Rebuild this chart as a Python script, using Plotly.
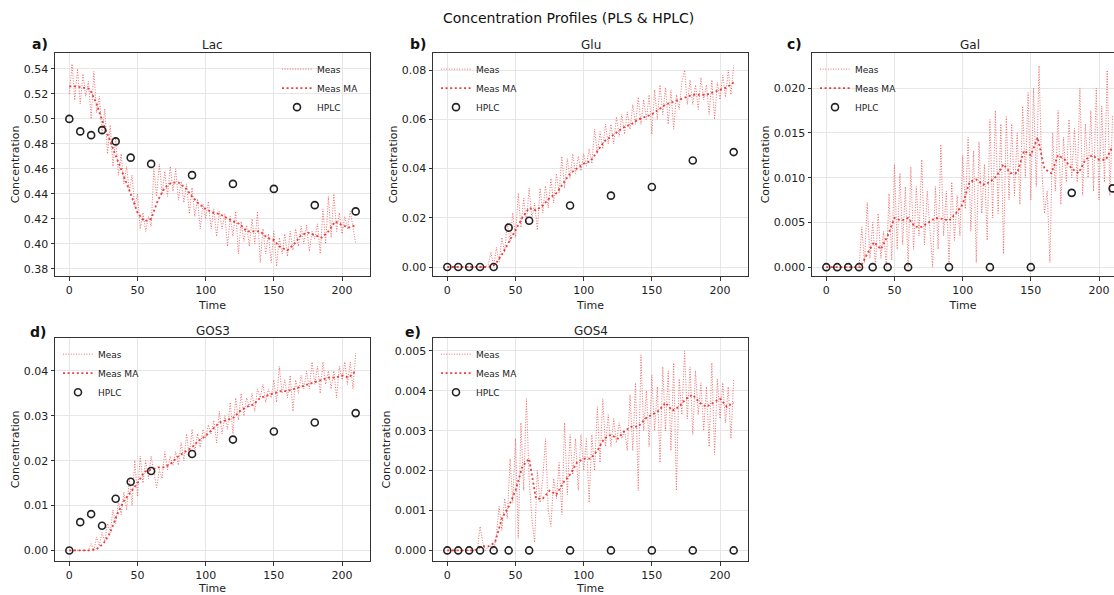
import plotly.graph_objects as go

# ---------------- data ----------------
t_meas = list(range(0, 211, 2))
t_ma = list(range(0, 211, 5))
t_hplc = [0, 8, 16, 24, 34, 45, 60, 90, 120, 150, 180, 210]

lac_meas = [0.520, 0.544, 0.515, 0.540, 0.512, 0.536, 0.518, 0.530, 0.500, 0.538,
            0.505, 0.518, 0.488, 0.508, 0.472, 0.495, 0.462, 0.485, 0.455, 0.472,
            0.448, 0.462, 0.442, 0.455, 0.430, 0.440, 0.412, 0.425, 0.410, 0.422,
            0.414, 0.460, 0.438, 0.464, 0.440, 0.458, 0.438, 0.462, 0.442, 0.460,
            0.435, 0.450, 0.433, 0.448, 0.424, 0.445, 0.422, 0.436, 0.412, 0.432,
            0.420, 0.434, 0.412, 0.428, 0.406, 0.426, 0.412, 0.424, 0.398, 0.422,
            0.406, 0.426, 0.392, 0.418, 0.402, 0.415, 0.398, 0.420, 0.400, 0.426,
            0.385, 0.412, 0.392, 0.408, 0.385, 0.410, 0.382, 0.405, 0.392, 0.408,
            0.390, 0.410, 0.395, 0.412, 0.398, 0.414, 0.400, 0.415, 0.394, 0.410,
            0.404, 0.416, 0.392, 0.428, 0.400, 0.438, 0.405, 0.440, 0.410, 0.425,
            0.408, 0.422, 0.412, 0.426, 0.414, 0.400]
lac_ma = [0.526, 0.526, 0.525, 0.524, 0.512, 0.496, 0.482, 0.468, 0.455, 0.440,
          0.425, 0.418, 0.420, 0.435, 0.445, 0.449, 0.449, 0.445, 0.438, 0.432,
          0.428, 0.425, 0.424, 0.421, 0.418, 0.416, 0.410, 0.410, 0.410, 0.405,
          0.403, 0.397, 0.395, 0.400, 0.407, 0.409, 0.407, 0.405, 0.410, 0.418,
          0.415, 0.413, 0.415]
lac_hplc = [0.500, 0.490, 0.487, 0.491, 0.482, 0.469, 0.464, 0.455, 0.448, 0.444, 0.431, 0.426]

glu_meas = [0, 0, 0, 0, 0, 0, 0, 0, 0, 0,
            0, 0, 0, 0, 0, 0.001, 0.006, 0.000, 0.008, 0.002,
            0.012, 0.006, 0.018, 0.010, 0.022, 0.012, 0.030, 0.016, 0.028, 0.018,
            0.032, 0.020, 0.026, 0.015, 0.032, 0.022, 0.033, 0.024, 0.036, 0.026,
            0.038, 0.030, 0.045, 0.032, 0.044, 0.036, 0.046, 0.038, 0.045, 0.039,
            0.046, 0.041, 0.048, 0.042, 0.056, 0.046, 0.055, 0.048, 0.058, 0.050,
            0.058, 0.050, 0.061, 0.053, 0.062, 0.054, 0.063, 0.056, 0.066, 0.058,
            0.069, 0.058, 0.068, 0.060, 0.070, 0.054, 0.072, 0.060, 0.074, 0.062,
            0.073, 0.058, 0.072, 0.056, 0.070, 0.064, 0.075, 0.080, 0.066, 0.076,
            0.066, 0.074, 0.064, 0.077, 0.068, 0.074, 0.062, 0.076, 0.060, 0.075,
            0.068, 0.078, 0.069, 0.080, 0.070, 0.082]
glu_ma = [0, 0, 0, 0, 0, 0, 0, 0.001, 0.005, 0.010,
          0.015, 0.020, 0.024, 0.023, 0.025, 0.028, 0.030, 0.034, 0.038, 0.040,
          0.042, 0.043, 0.047, 0.051, 0.053, 0.055, 0.057, 0.058, 0.060, 0.061,
          0.062, 0.064, 0.066, 0.067, 0.068, 0.069, 0.070, 0.070, 0.070, 0.071,
          0.072, 0.073, 0.075]
glu_hplc = [0, 0, 0, 0, 0, 0.0160, 0.0188, 0.0250, 0.0290, 0.0325, 0.0433, 0.0467]

gal_meas = [0, 0, 0, 0, 0, 0, 0, 0, 0, 0,
            0, 0, 0, 0.0045, 0.0005, 0.0072, 0.0010, 0.0050, 0.0002, 0.0060,
            0.0010, 0.0040, 0.0000, 0.0082, 0.0008, 0.0115, 0.0020, 0.0105, 0.0025, 0.0090,
            0.0000, 0.0112, 0.0020, 0.0090, 0.0035, 0.0120, 0.0025, 0.0085, 0.0045, 0.0000,
            0.0090, 0.0020, 0.0137, 0.0035, 0.0085, 0.0005, 0.0095, 0.0030, 0.0080, 0.0035,
            0.0125, 0.0065, 0.0145, 0.0040, 0.0130, 0.0005, 0.0140, 0.0060, 0.0115, 0.0030,
            0.0165, 0.0055, 0.0175, 0.0060, 0.0160, 0.0015, 0.0168, 0.0075, 0.0160, 0.0080,
            0.0150, 0.0070, 0.0180, 0.0100, 0.0195, 0.0075, 0.0200, 0.0090, 0.0225, 0.0110,
            0.0060, 0.0085, 0.0005, 0.0150, 0.0085, 0.0175, 0.0070, 0.0145, 0.0095, 0.0165,
            0.0100, 0.0155, 0.0095, 0.0200, 0.0080, 0.0160, 0.0100, 0.0175, 0.0085, 0.0200,
            0.0075, 0.0180, 0.0095, 0.0220, 0.0080, 0.0170]
gal_ma = [0, 0, 0, 0, 0, 0, 0.0015, 0.0028, 0.0020, 0.0035,
          0.0055, 0.0052, 0.0055, 0.0045, 0.0045, 0.0050, 0.0055, 0.0054, 0.0052, 0.0060,
          0.0070, 0.0095, 0.0098, 0.0092, 0.0095, 0.0102, 0.0115, 0.0105, 0.0105, 0.0130,
          0.0125, 0.0145, 0.0110, 0.0105, 0.0125, 0.0120, 0.0110, 0.0105, 0.0120, 0.0125,
          0.0120, 0.0120, 0.0135]
gal_hplc = [0, 0, 0, 0, 0, 0, 0, 0, 0, 0, 0.0083, 0.0088]

gos3_meas = [0, 0, 0, 0, 0, 0, 0, 0, 0.0015, 0.0000,
             0.003, 0.001, 0.004, 0.002, 0.006, 0.004, 0.009, 0.006, 0.011, 0.008,
             0.013, 0.009, 0.016, 0.010, 0.020, 0.012, 0.021, 0.015, 0.020, 0.016,
             0.021, 0.017, 0.014, 0.018, 0.016, 0.022, 0.018, 0.021, 0.019, 0.022,
             0.019, 0.024, 0.020, 0.026, 0.021, 0.027, 0.022, 0.026, 0.023, 0.027,
             0.025, 0.028, 0.026, 0.029, 0.024, 0.031, 0.026, 0.030, 0.027, 0.033,
             0.026, 0.034, 0.029, 0.035, 0.030, 0.034, 0.032, 0.035, 0.031, 0.036,
             0.034, 0.037, 0.033, 0.036, 0.034, 0.038, 0.033, 0.041, 0.035, 0.038,
             0.034, 0.039, 0.031, 0.038, 0.035, 0.039, 0.036, 0.040, 0.036, 0.042,
             0.037, 0.041, 0.035, 0.042, 0.037, 0.040, 0.036, 0.040, 0.034, 0.041,
             0.038, 0.042, 0.037, 0.042, 0.036, 0.044]
gos3_ma = [0, 0, 0, 0, 0.0003, 0.0015, 0.0040, 0.0080, 0.0110, 0.0130,
           0.0150, 0.0175, 0.0180, 0.0185, 0.0185, 0.0195, 0.0210, 0.0220, 0.0230, 0.0245,
           0.0255, 0.0270, 0.0285, 0.0290, 0.0295, 0.0310, 0.0320, 0.0325, 0.0340, 0.0345,
           0.0350, 0.0355, 0.0355, 0.0360, 0.0365, 0.0370, 0.0375, 0.0380, 0.0385, 0.0385,
           0.0390, 0.0385, 0.0400]
gos3_hplc = [0, 0.0063, 0.0081, 0.0055, 0.0115, 0.0153, 0.0177, 0.0215, 0.0247, 0.0265, 0.0285, 0.0306]

gos4_meas = [0, 0, 0, 0, 0, 0, 0, 0, 0, 0,
             0, 0, 0.0006, 0.0002, 0.0000, 0.0001, 0.0001, 0.0000, 0.0004, 0.0011,
             0.0005, 0.0013, 0.0008, 0.0023, 0.0012, 0.0028, 0.0003, 0.0032, 0.0015, 0.0038,
             0.0018, 0.0008, 0.0002, 0.0020, 0.0012, 0.0018, 0.0028, 0.0010, 0.0006, 0.0018,
             0.0013, 0.0022, 0.0009, 0.0032, 0.0014, 0.0029, 0.0019, 0.0028, 0.0015, 0.0029,
             0.0020, 0.0028, 0.0012, 0.0029, 0.0020, 0.0036, 0.0022, 0.0038, 0.0026, 0.0034,
             0.0026, 0.0033, 0.0027, 0.0032, 0.0028, 0.0030, 0.0025, 0.0039, 0.0025, 0.0042,
             0.0015, 0.0049, 0.0030, 0.0040, 0.0026, 0.0044, 0.0030, 0.0041, 0.0022, 0.0046,
             0.0030, 0.0045, 0.0025, 0.0047, 0.0015, 0.0043, 0.0034, 0.0050, 0.0033, 0.0046,
             0.0029, 0.0045, 0.0034, 0.0042, 0.0030, 0.0041, 0.0026, 0.0047, 0.0024, 0.0043,
             0.0033, 0.0042, 0.0032, 0.0041, 0.0028, 0.0043]
gos4_ma = [0, 0, 0, 0, 0, 0.0001, 0.0001, 0.0002, 0.0008, 0.0011,
           0.0015, 0.0021, 0.0023, 0.0013, 0.0013, 0.0015, 0.0014, 0.0017, 0.0019, 0.0022,
           0.0023, 0.0023, 0.0025, 0.0028, 0.0029, 0.0028, 0.0030, 0.0031, 0.0031, 0.0033,
           0.0034, 0.0035, 0.0037, 0.0035, 0.0036, 0.0038, 0.0039, 0.0037, 0.0036, 0.0037,
           0.0038, 0.0036, 0.0037]
gos4_hplc = [0] * 12

panel_names = ["Lac", "Glu", "Gal", "GOS3", "GOS4"]
panel_letters = ["a)", "b)", "c)", "d)", "e)"]
meas_series = [lac_meas, glu_meas, gal_meas, gos3_meas, gos4_meas]
ma_series = [lac_ma, glu_ma, gal_ma, gos3_ma, gos4_ma]
hplc_series = [lac_hplc, glu_hplc, gal_hplc, gos3_hplc, gos4_hplc]
y_ticks = [
    [0.38, 0.40, 0.42, 0.44, 0.46, 0.48, 0.50, 0.52, 0.54],
    [0.00, 0.02, 0.04, 0.06, 0.08],
    [0.000, 0.005, 0.010, 0.015, 0.020],
    [0.00, 0.01, 0.02, 0.03, 0.04],
    [0.000, 0.001, 0.002, 0.003, 0.004, 0.005],
]
y_fmt = [".2f", ".2f", ".3f", ".2f", ".3f"]
x_ticks = [0, 50, 100, 150, 200]

# ---------------- layout geometry ----------------
W, H = 1114, 595
px_x = [(55, 370), (433, 748), (812, 1114), (55, 370), (433, 748)]
px_y = [(53, 278), (53, 278), (53, 278), (340, 565), (340, 565)]
y_ranges = [[0.3742, 0.553], [-0.0037, 0.0871], [-0.001, 0.02396],
            [-0.0024, 0.0474], [-0.00027, 0.00533]]
x_ranges = [[-10.5, 220.5], [-10.5, 220.5], [-10.5, 211.0],
            [-10.5, 220.5], [-10.5, 220.5]]
# legend anchor in pixels (x, top y, anchor side)
legend_px = [(364, 55, "right"), (436, 55, "left"), (815, 55, "left"),
             (58, 342, "left"), (436, 342, "left")]

FONT = "DejaVu Sans"
meas_color = "rgba(238,60,60,0.75)"
ma_color = "rgba(228,30,30,0.85)"

fig = go.Figure()
layout = dict(
    width=W, height=H,
    margin=dict(l=0, r=0, t=0, b=0),
    paper_bgcolor="white", plot_bgcolor="white",
    font=dict(family=FONT, size=11, color="#222"),
    annotations=[],
)

for i in range(5):
    k = "" if i == 0 else str(i + 1)
    xa, ya = "x" + k, "y" + k
    lg = "legend" if i == 0 else "legend" + str(i + 1)
    fig.add_trace(go.Scatter(x=t_meas, y=meas_series[i], mode="lines", name="Meas",
                             line=dict(color=meas_color, width=1.0, dash="1px,1.6px"),
                             xaxis=xa, yaxis=ya, legend=lg))
    fig.add_trace(go.Scatter(x=t_ma, y=ma_series[i], mode="lines", name="Meas MA",
                             line=dict(color=ma_color, width=1.8, dash="2px,2.6px"),
                             xaxis=xa, yaxis=ya, legend=lg))
    fig.add_trace(go.Scatter(x=t_hplc, y=hplc_series[i], mode="markers", name="HPLC",
                             marker=dict(symbol="circle-open", size=7, color="#222",
                                         line=dict(width=1.6, color="#222")),
                             xaxis=xa, yaxis=ya, legend=lg))
    x0, x1 = px_x[i]
    y0, y1 = px_y[i]
    dx = [x0 / W, x1 / W]
    dy = [1 - y1 / H, 1 - y0 / H]
    layout["xaxis" + k] = dict(
        domain=dx, anchor=ya, range=x_ranges[i], tickvals=x_ticks,
        showgrid=True, gridcolor="#e6e6e6", gridwidth=1, zeroline=False,
        showline=True, linecolor="#333", linewidth=1, mirror=True,
        ticks="outside", ticklen=3.5, tickcolor="#333",
        tickfont=dict(size=11),
        title=dict(text="Time", font=dict(size=11), standoff=5),
    )
    layout["yaxis" + k] = dict(
        domain=dy, anchor=xa, range=y_ranges[i], tickvals=y_ticks[i],
        tickformat=y_fmt[i],
        showgrid=True, gridcolor="#e6e6e6", gridwidth=1, zeroline=False,
        showline=True, linecolor="#333", linewidth=1, mirror=(i != 2),
        ticks="outside", ticklen=3.5, tickcolor="#333",
        tickfont=dict(size=11),
        title=dict(text="Concentration", font=dict(size=11), standoff=1),
    )
    lx, ly, anc = legend_px[i]
    layout[lg] = dict(
        x=lx / W, y=1 - ly / H,
        xanchor=anc, yanchor="top", xref="paper", yref="paper",
        bgcolor="rgba(0,0,0,0)", font=dict(size=9, color="#222"),
        itemwidth=30, tracegroupgap=0,
    )
    # subplot title
    full_right = x0 + 315
    layout["annotations"].append(dict(
        text=panel_names[i], x=(x0 + full_right) / 2 / W, y=1 - 45 / H if i < 3 else 1 - 333 / H,
        xref="paper", yref="paper", showarrow=False, xanchor="center", yanchor="middle",
        font=dict(size=12, color="#222")))

letter_pos = [(30, 44), (408, 44), (785, 44), (28, 334), (403, 334)]
for i, (lx, ly) in enumerate(letter_pos):
    layout["annotations"].append(dict(
        text="<b>" + panel_letters[i] + "</b>", x=lx / W, y=1 - ly / H,
        xref="paper", yref="paper", showarrow=False, xanchor="left", yanchor="middle",
        font=dict(size=14, color="#111")))

layout["annotations"].append(dict(
    text="Concentration Profiles (PLS & HPLC)", x=568 / W, y=1 - 18 / H,
    xref="paper", yref="paper", showarrow=False, xanchor="center", yanchor="middle",
    font=dict(size=14, color="#111")))

fig.update_layout(**layout)
fig.write_html("out.html")
